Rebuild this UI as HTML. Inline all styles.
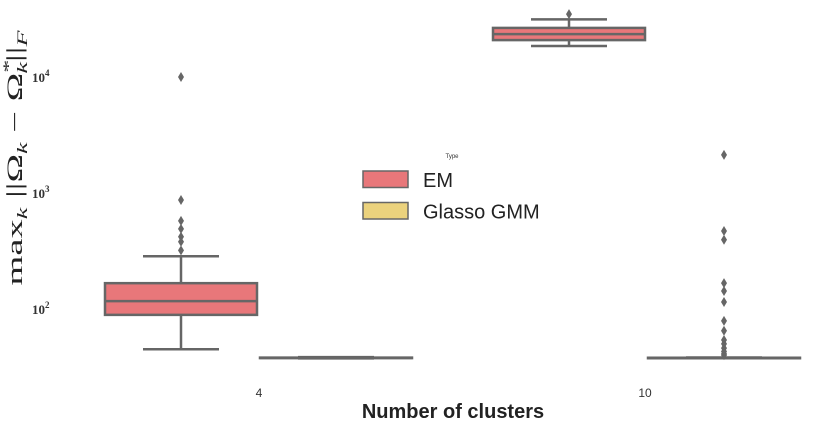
<!DOCTYPE html>
<html><head><meta charset="utf-8"><style>
body{margin:0;background:#fff;}
svg{display:block;font-family:"Liberation Sans",sans-serif;}
</style></head><body>
<svg id="chart" width="840" height="424"></svg>
<script>
const categories = ["4","10"];
const seriesNames = ["EM","Glasso GMM"];
// [whiskerLow, q1, median, q3, whiskerHigh] per category
const emStats = [[45,89,117,167,285],[18500,20800,23400,26500,31400]];
const glassoStats = [[37.5,37.8,37.9,38.1,38.5],[37.6,37.8,37.9,38.0,38.2]];
const emOutliers = [[10000,870,575,490,420,380,320],[34800]];
const glassoOutliers = [[],[2130,470,395,167,143,115,79,65,54,50,46,43,41,40]];
const yTicks = [100,1000,10000];
const yTickExps = ["2","3","4"];
const colors = ["#e8777a","#ebd27d"];

const NS="http://www.w3.org/2000/svg";
const svg=document.getElementById('chart');
function mk(t,a,p){const e=document.createElementNS(NS,t);for(const k in a)e.setAttribute(k,a[k]);(p||svg).appendChild(e);return e;}
function y(v){return 309-116*Math.log10(v/100);}
const boxW=152;
function x(ci,si){const c=[258.5,646.5][ci];return c+(si===0?-77.5:77.5);}

yTicks.forEach((v,i)=>{
  const t=mk('text',{x:32,y:y(v)+5,'font-family':'"Liberation Serif",serif','font-weight':'bold','font-size':'13',fill:'#333'});
  
  
  t.textContent='10';
  const s=mk('tspan',{dy:-6,'font-size':'9'},t);s.textContent=yTickExps[i];
});
categories.forEach((c,i)=>{
  const t=mk('text',{x:[259,645][i],y:397,'text-anchor':'middle','font-size':'12',fill:'#333'});
  
  
  t.textContent=c;
});
const xt=mk('text',{x:453,y:418,'text-anchor':'middle','font-size':'20','font-weight':'bold',fill:'#222'});


xt.textContent='Number of clusters';
const yt=mk('text',{transform:'translate(22,158) rotate(-90)','text-anchor':'middle','font-size':'22','font-family':'"Liberation Serif",serif',fill:'#222',textLength:'255',lengthAdjust:'spacingAndGlyphs'});


yt.innerHTML='max<tspan font-size="15" dy="5" font-style="italic">k</tspan><tspan dy="-5"> ||Ω</tspan><tspan font-size="15" dy="5" font-style="italic">k</tspan><tspan dy="-5"> − Ω</tspan><tspan font-size="15" dy="-9">*</tspan><tspan font-size="15" dx="-8" dy="14" font-style="italic">k</tspan><tspan dy="-5">||</tspan><tspan font-size="15" dy="5" font-style="italic">F</tspan>';

function drawBox(st,out,ci,si){
  const cx=x(ci,si),g=mk('g',{});
  
  
  const st2={stroke:'#666','stroke-width':2.5,fill:'none'};
  mk('line',Object.assign({x1:cx,x2:cx,y1:y(st[0]),y2:y(st[1])},st2),g);
  mk('line',Object.assign({x1:cx,x2:cx,y1:y(st[3]),y2:y(st[4])},st2),g);
  mk('line',Object.assign({x1:cx-38,x2:cx+38,y1:y(st[0]),y2:y(st[0])},st2),g);
  mk('line',Object.assign({x1:cx-38,x2:cx+38,y1:y(st[4]),y2:y(st[4])},st2),g);
  mk('rect',{x:cx-boxW/2,y:y(st[3]),width:boxW,height:Math.max(0.5,y(st[1])-y(st[3])),fill:colors[si],stroke:'#666','stroke-width':2.5},g);
  mk('line',Object.assign({x1:cx-boxW/2,x2:cx+boxW/2,y1:y(st[2]),y2:y(st[2])},st2),g);
  out.forEach(v=>{
    const d=mk('path',{d:`M${cx},${y(v)-5}L${cx+3},${y(v)}L${cx},${y(v)+5}L${cx-3},${y(v)}Z`,fill:'#666'},g);
    
    
  });
}
categories.forEach((c,i)=>{drawBox(emStats[i],emOutliers[i],i,0);drawBox(glassoStats[i],glassoOutliers[i],i,1);});

const lg=mk('g',{});


const lt=mk('text',{x:452,y:158,'text-anchor':'middle','font-size':'6',fill:'#333'},lg);lt.textContent='Type';
seriesNames.forEach((n,i)=>{
  const e=mk('g',{},lg);
  
  
  mk('rect',{x:363,y:171+i*31.5,width:45,height:16.5,fill:colors[i],stroke:'#666','stroke-width':1.5},e);
  const t=mk('text',{x:423,y:187+i*31.5,'font-size':'20',fill:'#222'},e);t.textContent=n;
});
</script>
</body></html>
